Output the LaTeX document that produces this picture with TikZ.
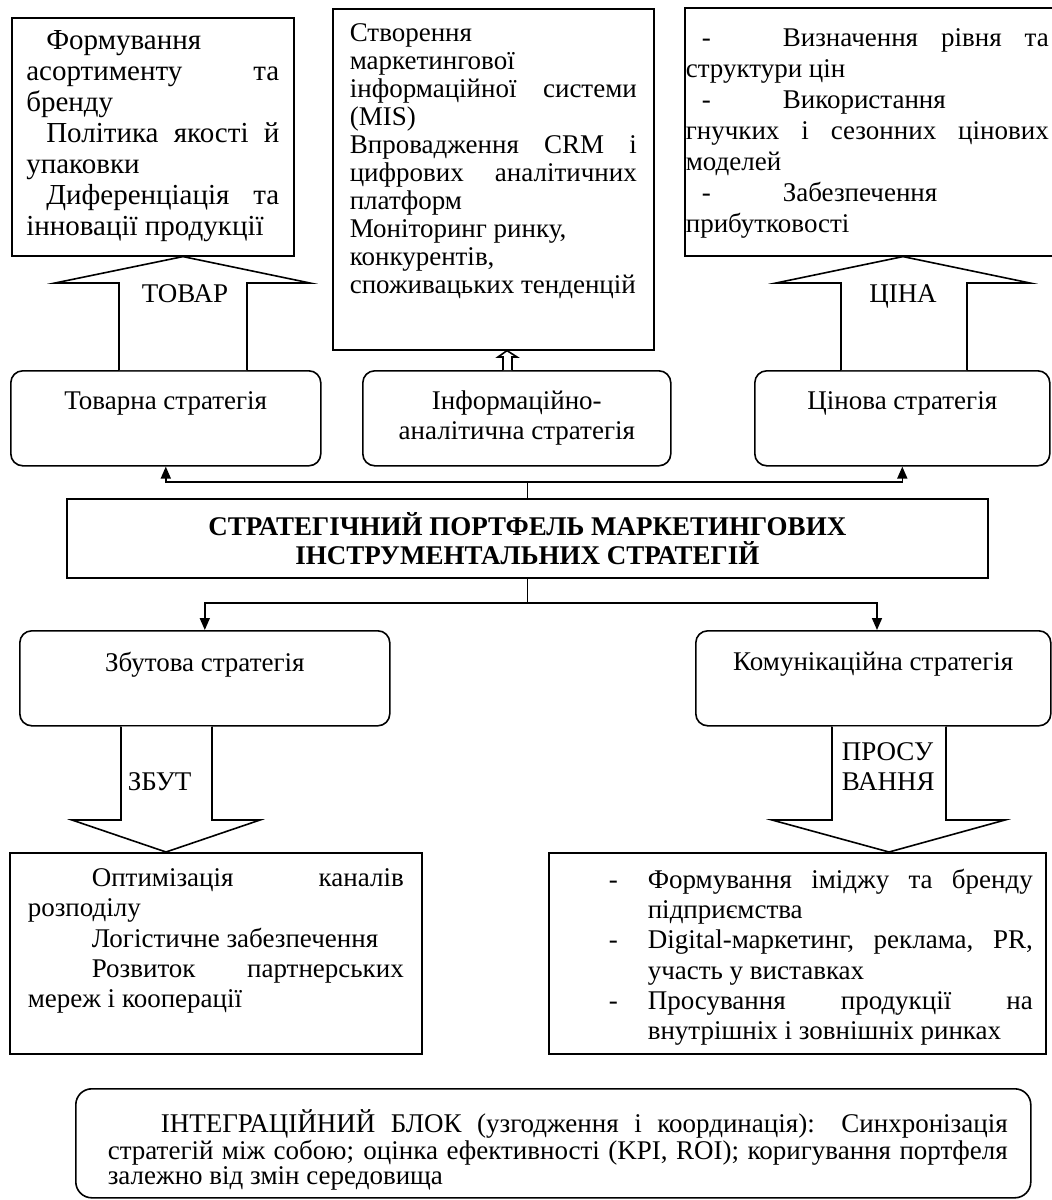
\documentclass[tikz,border=0pt]{standalone}
\usepackage{fontspec}
\setmainfont{Liberation Serif}
\usetikzlibrary{arrows.meta}
\newlength\pxu
\setlength\pxu{0.5pt}
\newcommand\jl[1]{\makebox[\linewidth][s]{#1}}
\newcommand\boxtext[4]{\parbox[c][#2\pxu][t]{#1\pxu}{\vspace*{#3\pxu}#4}}
\begin{document}
\begin{tikzpicture}[x=0.5pt, y=-0.5pt, line width=0.8pt, font=\fontsize{13.5}{15}\selectfont,
    listbox/.style = {draw, rectangle, inner sep=0pt, anchor=north west},
    stratbox/.style = {draw, rounded corners=6pt, inner sep=0pt, anchor=north west},
    conn/.style = {-{Triangle[length=6pt,width=5pt]}},
    blockarrow/.style = {draw, fill=white, line join=miter},
    arrowlabel/.style = {inner sep=0pt}]
    \useasboundingbox (0,0) rectangle (1051,1200);

    \node[listbox, minimum width=282\pxu, font=\fontsize{14.5}{15.5}\selectfont] (tovarlist) at (11,17) {\boxtext{253}{238}{13}{%
        \hspace*{20\pxu}Формування\\
        \jl{асортименту та}\\
        бренду\\
        \jl{\hspace*{20\pxu}Політика якості й}\\
        упаковки\\
        \jl{\hspace*{20\pxu}Диференціація та}\\
        інновації продукції}};
    \node[listbox, minimum width=321\pxu, font=\fontsize{13.5}{14}\selectfont] (infolist) at (332,8) {\boxtext{287}{341}{15}{%
        Створення\\
        маркетингової\\
        \jl{інформаційної системи}\\
        (MIS)\\
        \jl{Впровадження CRM і}\\
        \jl{цифрових аналітичних}\\
        платформ\\
        Моніторинг ринку,\\
        конкурентів,\\
        споживацьких тенденцій}};
    \node[listbox, minimum width=372\pxu, font=\fontsize{13.5}{15.5}\selectfont] (cinalist) at (684,7) {\boxtext{363}{248}{21}{%
        \jl{\hspace*{16\pxu}\makebox[81\pxu][l]{-}Визначення рівня та}\\
        структури цін\\
        \hspace*{16\pxu}\makebox[81\pxu][l]{-}Використання\\
        \jl{гнучких і сезонних цінових}\\
        моделей\\
        \hspace*{16\pxu}\makebox[81\pxu][l]{-}Забезпечення\\
        прибутковості}\hspace*{7\pxu}};

    \node[stratbox, minimum width=310\pxu] (tovar) at (10,370) {\boxtext{300}{95}{21}{\centering Товарна стратегія}};
    \node[stratbox, minimum width=308\pxu] (info) at (362,370) {\boxtext{300}{95}{20}{\centering Інформаційно-\\аналітична стратегія}};
    \node[stratbox, minimum width=295\pxu] (cina) at (754,370) {\boxtext{290}{95}{21}{\centering Цінова стратегія}};

    \node[listbox, minimum width=921\pxu, minimum height=79\pxu, align=center, font=\bfseries\fontsize{13.5}{14.5}\selectfont] (portfolio) at (66,498) {СТРАТЕГІЧНИЙ ПОРТФЕЛЬ МАРКЕТИНГОВИХ\\ІНСТРУМЕНТАЛЬНИХ СТРАТЕГІЙ};

    \node[stratbox, minimum width=370\pxu] (zbut) at (19,630) {\boxtext{360}{95}{21}{\centering Збутова стратегія}};
    \node[stratbox, minimum width=355\pxu] (komun) at (695,630) {\boxtext{345}{95}{21}{\centering Комунікаційна стратегія}};

    \node[listbox, minimum width=412\pxu, font=\fontsize{13.5}{15.15}\selectfont] (zbutlist) at (9,852) {\boxtext{376}{201}{16}{%
        \jl{\hspace*{64\pxu}Оптимізація каналів}\\
        розподілу\\
        \hspace*{64\pxu}Логістичне забезпечення\\
        \jl{\hspace*{64\pxu}Розвиток партнерських}\\
        мереж і кооперації}};
    \node[listbox, minimum width=497\pxu, font=\fontsize{13.5}{15.15}\selectfont] (komunlist) at (548,852) {\boxtext{471}{201}{16}{%
        \jl{\hspace*{47\pxu}\makebox[39\pxu][l]{-}Формування іміджу та бренду}\\
        \hspace*{86\pxu}підприємства\\
        \jl{\hspace*{47\pxu}\makebox[39\pxu][l]{-}Digital-маркетинг, реклама, PR,}\\
        \hspace*{86\pxu}участь у виставках\\
        \jl{\hspace*{47\pxu}\makebox[39\pxu][l]{-}Просування продукції на}\\
        \hspace*{86\pxu}внутрішніх і зовнішніх ринках}};

    \node[stratbox, rounded corners=8pt, minimum width=955\pxu, font=\fontsize{13.5}{12.5}\selectfont] (integr) at (75,1088) {\hspace*{9\pxu}\boxtext{900}{109}{21}{%
        \jl{\hspace*{53\pxu}ІНТЕГРАЦІЙНИЙ БЛОК (узгодження і координація): Синхронізація}\\
        \jl{стратегій між собою; оцінка ефективності (KPI, ROI); коригування портфеля}\\
        залежно від змін середовища}};

    \draw (portfolio.north) -- (portfolio.north |- 0,482) coordinate (upfork);
    \draw[conn] (upfork) -| (tovar.south);
    \draw[conn] (upfork) -| (cina.south);
    \draw (portfolio.south) -- (portfolio.south |- 0,603) coordinate (downfork);
    \draw[conn] (downfork) -| (zbut.north);
    \draw[conn] (downfork) -| (877,0 |- komun.north);

    \draw[blockarrow] (119,0 |- tovar.north) -- (119,283) -- (55,283) -- (183,0 |- tovarlist.south) -- (310,283) -- (247,283) -- (247,0 |- tovar.north);
    \draw[blockarrow] (503,0 |- info.north) -- (503,357) -- (498,357) -- (507,0 |- infolist.south) -- (517,357) -- (512,357) -- (512,0 |- info.north);
    \draw[blockarrow] (841,0 |- cina.north) -- (841,283) -- (776,283) -- (903,0 |- cinalist.south) -- (1030,283) -- (967,283) -- (967,0 |- cina.north);
    \draw[blockarrow] (121,0 |- zbut.south) -- (121,820) -- (72,820) -- (166,0 |- zbutlist.north) -- (260,820) -- (212,820) -- (212,0 |- zbut.south);
    \draw[blockarrow] (832,0 |- komun.south) -- (832,820) -- (772,820) -- (889,0 |- komunlist.north) -- (1005,820) -- (946,820) -- (946,0 |- komun.south);

    \node[arrowlabel, anchor=base] (tovarlbl) at (185,302) {ТОВАР};
    \node[arrowlabel, anchor=base] (cinalbl) at (903,302) {ЦІНА};
    \node[arrowlabel, anchor=base west] (zbutlbl) at (127,790) {ЗБУТ};
    \node[arrowlabel, anchor=west, align=left] (komunlbl) at (841,767) {ПРОСУ\\ВАННЯ};
\end{tikzpicture}
\end{document}
